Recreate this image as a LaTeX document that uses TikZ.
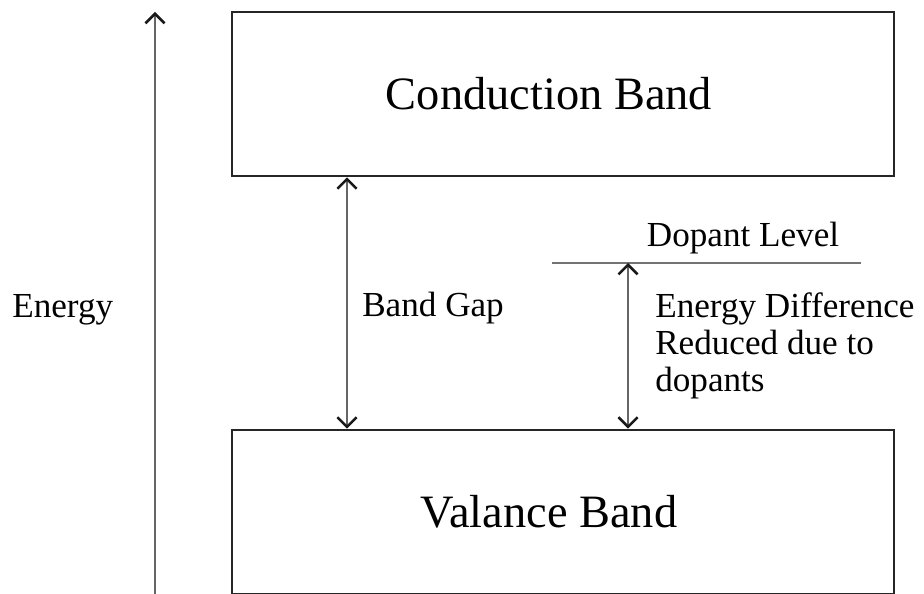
\documentclass[tikz,border=0pt]{standalone}
\usepackage{fontspec}
\setmainfont{Liberation Serif}
\usetikzlibrary{arrows.meta,positioning}

\begin{document}
\begin{tikzpicture}[scale=1
        , band/.style={ draw=black!85, line width=2pt, minimum width=16.55cm, minimum height=4.1cm, inner sep=0pt }
        , bandtext/.style={ font=\fontsize{33}{40}\selectfont, inner sep=0pt, xshift=-0.35cm }
        , tip/.tip={Straight Barb[length=2.4mm,width=4.8mm,line width=1.8pt,black!90]}
        , gap/.style={ draw=black!60, line width=1.6pt, tip-tip }
        , lbl/.style={ font=\fontsize{25}{26.5}\selectfont, inner sep=0pt, align=left }
        ]
        \useasboundingbox (0,0) rectangle (23.1,14.85);

        % the two bands
        \node[band] (cb) at (14.075,12.5) {};
        \node[bandtext] (cbt) at (cb) {Conduction Band};
        \node[band] (vb) at (14.075,2.05) {};
        \node[bandtext] (vbt) at (vb) {Valance Band};

        % energy axis
        \coordinate (e0) at (3.875,0);
        \coordinate (e1) at (3.875,14.55);
        \draw[black!60, line width=1.8pt, -tip] (e0) -- (e1);
        \node[lbl, anchor=west] (energy) at (0.3,7.1) {Energy};

        % band gap
        \coordinate (g1) at (8.675,0 |- cb.south);
        \coordinate (g0) at (8.675,0 |- vb.north);
        \draw[gap] (g0) -- (g1);
        \node[lbl, anchor=west] (bandgap) at (9.05,7.15) {Band Gap};

        % dopant level
        \coordinate (d0) at (13.8,8.275);
        \coordinate (d1) at (21.525,8.275);
        \draw[black!55, line width=1.8pt] (d0) -- (d1);
        \node[lbl] (dopant) at (18.575,8.9) {Dopant Level};

        \coordinate (dl) at (15.7,8.275);
        \coordinate (dv) at (15.7,0 |- vb.north);
        \draw[gap] (dv) -- (dl);
        \node[lbl, anchor=west] (diff) at (16.375,6.2) {Energy Difference\\Reduced due to\\dopants};
\end{tikzpicture}
\end{document}
